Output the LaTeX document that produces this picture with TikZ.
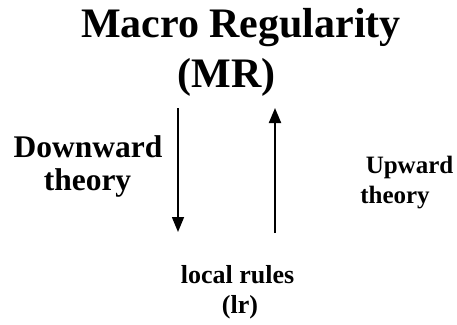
\documentclass[tikz,border=0pt]{standalone}
\usepackage{fontspec}
\setmainfont{Liberation Serif}
\usetikzlibrary{arrows.meta}
\tikzset{
  lbl/.style={inner sep=0pt, anchor=base, font=\bfseries},
  conn/.style={line width=1.5pt, -{Triangle[length=15pt,width=12pt]}}
}
\begin{document}
\begin{tikzpicture}[x=1pt,y=-1pt]
\useasboundingbox (0,0) rectangle (457,324);
\node[lbl, font=\bfseries\fontsize{42}{46}\selectfont] (title) at (241,37) {Macro Regularity};
\node[lbl, font=\bfseries\fontsize{42}{46}\selectfont] (mr) at (226.5,87) {(MR)};
\node[lbl, font=\bfseries\fontsize{31.5}{34}\selectfont] (down) at (88,157) {Downward};
\node[lbl, font=\bfseries\fontsize{31.5}{34}\selectfont] (downth) at (87.5,190) {theory};
\node[lbl, font=\bfseries\fontsize{25}{30}\selectfont] (up) at (409.5,173) {Upward};
\node[lbl, font=\bfseries\fontsize{25}{30}\selectfont] (upth) at (395,203) {theory};
\node[lbl, font=\bfseries\fontsize{26}{30}\selectfont] (lr) at (237.5,283) {local rules};
\node[lbl, font=\bfseries\fontsize{26}{30}\selectfont] (lrab) at (240,313) {(lr)};
\coordinate (dtop) at (178,108);
\coordinate (dbot) at (178,232);
\coordinate (ubot) at (275,233);
\coordinate (utop) at (275,108);
\draw[conn] (dtop) -- (dbot);
\draw[conn, line width=2pt] (ubot) -- (utop);
\end{tikzpicture}
\end{document}
